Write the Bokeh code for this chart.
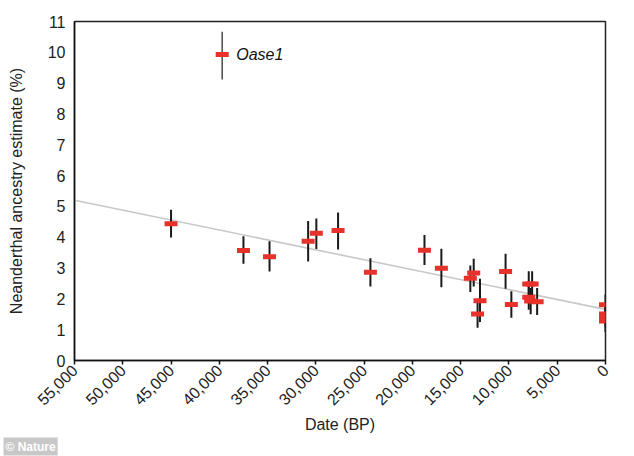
import math
from bokeh.plotting import figure
from bokeh.models import Range1d, FixedTicker, NumeralTickFormatter, Label, Title
from bokeh.embed import file_html
from bokeh.resources import INLINE

# Sample dates (years BP) and Neanderthal ancestry estimates (%)
dates = [45000, 37500, 34800, 30800, 29950, 27700, 24350, 18750, 17000,
         14000, 13650, 13000, 13250, 10350, 9750,
         7950, 7600, 7950, 7750, 7080,
         0, 0, 0, 0]
estimates = [4.44, 3.57, 3.37, 3.87, 4.13, 4.22, 2.86, 3.58, 2.99,
             2.67, 2.84, 1.94, 1.51, 2.89, 1.82,
             2.48, 2.48, 2.05, 1.93, 1.91,
             1.81, 1.51, 1.40, 1.28]
lower = [3.99, 3.14, 2.89, 3.21, 3.62, 3.60, 2.40, 3.10, 2.38,
         2.22, 2.40, 1.25, 1.06, 2.33, 1.39,
         2.05, 2.10, 1.65, 1.50, 1.48,
         1.50, 1.18, 1.08, 0.92]
upper = [4.89, 4.03, 3.87, 4.53, 4.61, 4.80, 3.32, 4.07, 3.63,
         3.08, 3.30, 2.65, 1.95, 3.46, 2.25,
         2.90, 2.90, 2.45, 2.35, 2.35,
         2.14, 1.85, 1.72, 1.60]

# Oase1 outlier
oase_date = [39700]
oase_est = [9.93]
oase_lower = [9.12]
oase_upper = [10.67]

# Fitted regression line
fit_dates = [55000, 0]
fit_values = [5.20, 1.66]

x_ticks = list(range(0, 55001, 5000))
y_ticks = list(range(0, 12))

FONT = "Liberation Sans"

p = figure(width=634, height=456, output_backend="svg", toolbar_location=None,
           x_range=Range1d(55000, 0), y_range=Range1d(0, 11),
           min_border_left=74, min_border_right=29, min_border_top=21,
           min_border_bottom=96)

p.grid.visible = False
p.outline_line_color = "#222222"
p.outline_line_width = 1.5
p.background_fill_color = "white"
p.border_fill_color = "white"

p.xaxis.ticker = FixedTicker(ticks=x_ticks)
p.xaxis.formatter = NumeralTickFormatter(format="0,0")
p.xaxis.major_label_orientation = math.pi / 4
p.xaxis.minor_tick_line_color = None
p.xaxis.major_tick_out = 4
p.xaxis.major_tick_in = 0
p.xaxis.major_label_standoff = 3
p.xaxis.axis_label = "Date (BP)"
p.xaxis.axis_label_standoff = 2

p.yaxis.ticker = FixedTicker(ticks=y_ticks)
p.yaxis.minor_tick_line_color = None
p.yaxis.major_tick_out = 0
p.yaxis.major_tick_in = 0
p.yaxis.major_label_standoff = 9
p.yaxis.axis_label = "Neanderthal ancestry estimate (%)"
p.yaxis.axis_label_standoff = 20

for ax in (p.xaxis, p.yaxis):
    ax.axis_line_color = "#111111"
    ax.axis_line_width = 1.5
    ax.major_tick_line_color = "#111111"
    ax.major_tick_line_width = 1.5
    ax.major_label_text_font = FONT
    ax.major_label_text_font_size = "16px"
    ax.major_label_text_color = "#222222"
    ax.axis_label_text_font = FONT
    ax.axis_label_text_font_size = "16px"
    ax.axis_label_text_font_style = "normal"
    ax.axis_label_text_color = "#222222"

# regression line
p.line(fit_dates, fit_values, line_color="#c8c8c8", line_width=1.6)

# error bars
p.segment(x0=dates, y0=lower, x1=dates, y1=upper, line_color="#1a1a1a", line_width=2)
p.segment(x0=oase_date, y0=oase_lower, x1=oase_date, y1=oase_upper,
          line_color="#555555", line_width=1.6)

# markers
p.rect(x=dates, y=estimates, width=13, height=5, width_units="screen",
       height_units="screen", fill_color="#e8312b", line_color=None)
p.rect(x=oase_date, y=oase_est, width=13, height=5, width_units="screen",
       height_units="screen", fill_color="#e8312b", line_color=None)

p.add_layout(Label(x=oase_date[0], y=oase_est[0], x_offset=14, text="Oase1",
                   text_font=FONT, text_font_size="16px",
                   text_font_style="italic", text_baseline="middle",
                   text_color="#111111"))

# watermark
p.add_layout(Title(text="© Nature", align="left", offset=-71, standoff=0,
                   text_font=FONT, text_font_size="12px",
                   text_font_style="bold", text_color="white",
                   background_fill_color="#c8c8c8", padding=2), "below")

open("out.html", "w").write(file_html(p, INLINE))
